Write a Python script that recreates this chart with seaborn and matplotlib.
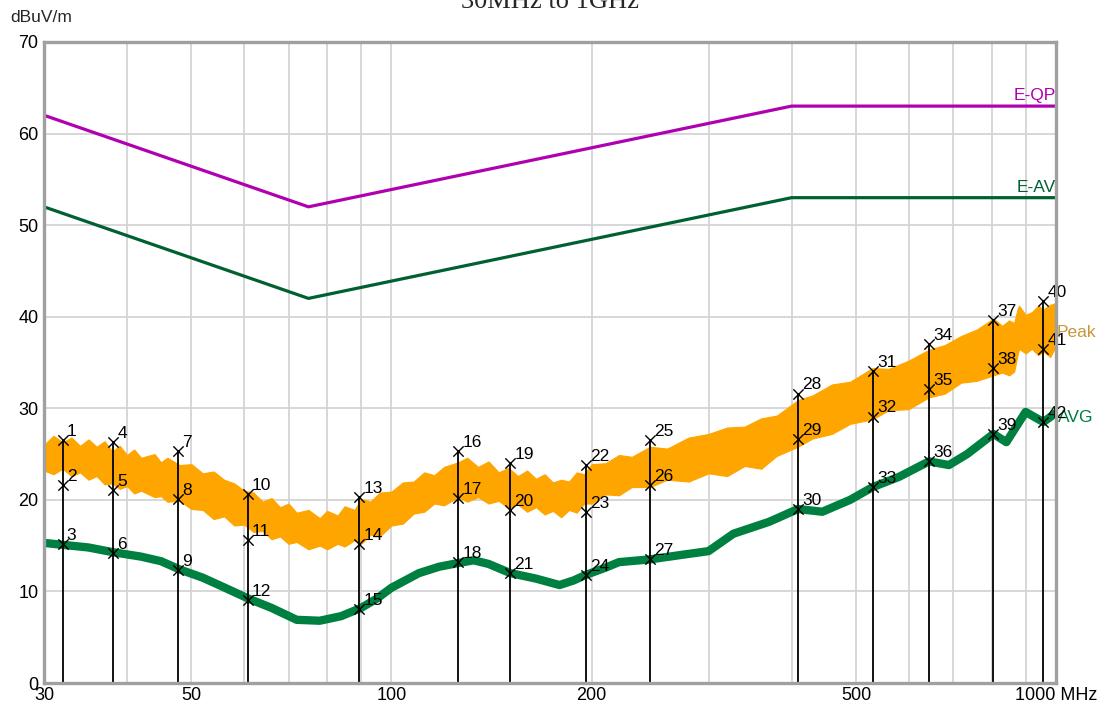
import numpy as np
import pandas as pd
import seaborn as sns
import matplotlib.pyplot as plt

# limit lines (MHz, dBuV/m)
qp_freq = [30, 75, 400, 1000]
qp_level = [62, 52, 63, 63]
av_freq = [30, 75, 400, 1000]
av_level = [52, 42, 53, 53]

# peak trace envelope
peak_freq = [30, 31, 32, 33, 34, 35, 36, 37, 38, 39, 40, 41, 42, 44, 45, 46, 48, 50, 52, 54,
             56, 58, 60, 62, 64, 66, 68, 70, 72, 75, 78, 80, 83, 85, 88, 90, 93, 96, 100, 104,
             108, 112, 116, 120, 126, 130, 135, 140, 145, 150, 155, 160, 165, 170, 175, 180,
             185, 190, 195, 200, 210, 220, 230, 245, 260, 280, 300, 320, 340, 360, 380, 409,
             430, 460, 490, 530, 560, 600, 644, 680, 720, 760, 805, 830, 850, 865, 875, 880,
             900, 920, 940, 957, 980, 1000]
peak_low = [23.2, 22.8, 23.4, 22.6, 23.0, 22.2, 22.6, 21.7, 21.8, 21.2, 21.5, 20.7, 21.0, 20.3,
            20.4, 19.8, 19.9, 19.0, 18.9, 17.9, 18.2, 17.2, 17.3, 16.5, 16.6, 15.7, 16.0, 15.2,
            15.4, 14.6, 15.0, 14.6, 15.2, 14.9, 15.6, 15.2, 16.2, 16.0, 17.2, 17.4, 18.5, 18.7,
            19.6, 19.4, 20.3, 19.8, 20.3, 19.6, 19.9, 19.1, 19.5, 18.7, 19.2, 18.4, 18.8, 18.1,
            18.9, 18.6, 19.6, 19.6, 20.6, 20.5, 21.4, 21.4, 22.2, 22.0, 22.9, 22.6, 23.7, 23.4,
            24.8, 25.8, 26.7, 27.2, 28.3, 28.8, 29.8, 29.9, 31.2, 31.6, 32.8, 33.0, 33.6, 33.9,
            33.6, 34.0, 35.8, 36.5, 36.0, 36.5, 35.8, 36.2, 35.6, 36.8]
peak_high = [26.0, 27.0, 26.3, 26.8, 25.9, 26.6, 25.8, 26.4, 25.3, 25.9, 24.9, 25.5, 24.6, 25.0,
             24.1, 24.6, 23.8, 23.9, 22.9, 23.1, 22.2, 21.8, 21.0, 20.8, 19.8, 20.2, 19.2, 19.6,
             18.6, 18.9, 18.0, 18.8, 18.3, 19.3, 18.9, 20.1, 19.8, 20.8, 20.9, 21.9, 22.0, 23.0,
             22.7, 23.6, 24.1, 24.6, 23.6, 24.2, 23.0, 23.5, 22.6, 23.2, 22.3, 22.8, 21.9, 22.2,
             22.0, 23.0, 22.8, 23.9, 24.0, 24.9, 24.7, 25.8, 25.6, 26.8, 27.2, 27.9, 28.0, 28.9,
             29.2, 30.9, 31.4, 32.6, 32.9, 34.4, 34.3, 35.2, 36.4, 36.9, 37.9, 38.6, 39.8, 39.0,
             39.6, 39.3, 40.8, 41.2, 40.2, 40.5, 41.2, 40.8, 41.3, 41.5]

# average trace
avg_freq = [30, 35, 38, 42, 45, 48, 52, 55, 61, 66, 72, 78, 84, 90, 95, 100, 110, 118, 126, 133,
            140, 151, 165, 179, 188, 196, 210, 220, 245, 280, 300, 327, 370, 409, 445, 490, 530,
            580, 644, 690, 735, 805, 842, 900, 957, 1000]
avg_level = [15.3, 14.8, 14.3, 13.8, 13.3, 12.4, 11.5, 10.7, 9.2, 8.2, 6.9, 6.8, 7.3, 8.2, 9.2,
             10.4, 12.0, 12.7, 13.1, 13.4, 13.0, 12.0, 11.4, 10.7, 11.2, 11.8, 12.6, 13.2, 13.5,
             14.1, 14.4, 16.3, 17.6, 19.0, 18.7, 20.0, 21.4, 22.5, 24.2, 23.8, 25.0, 27.2, 26.3,
             29.6, 28.5, 29.5]

# markers: frequency, value, label
mk_freq = [32.0, 32.0, 32.0, 38.1, 38.1, 38.1, 47.7, 47.7, 47.7, 60.8, 60.8, 60.8,
           89.5, 89.5, 89.5, 126, 126, 126, 151, 151, 151, 196, 196, 196, 245, 245, 245,
           409, 409, 409, 530, 530, 530, 644, 644, 644, 805, 805, 805, 957, 957, 957]
mk_level = [26.5, 21.6, 15.2, 26.3, 21.1, 14.2, 25.3, 20.1, 12.3, 20.6, 15.6, 9.1,
            20.3, 15.2, 8.1, 25.3, 20.2, 13.2, 24.0, 18.9, 12.0, 23.8, 18.7, 11.8,
            26.5, 21.6, 13.5, 31.6, 26.6, 19.0, 34.1, 29.1, 21.4, 37.0, 32.1, 24.2,
            39.6, 34.4, 27.2, 41.7, 36.5, 28.5]
mk_label = [str(i) for i in range(1, 43)]

xtick_vals = [30, 50, 100, 200, 500, 1000]
xtick_labels = ["30", "50", "100", "200", "500", "1000 MHz"]

sns.set_style("white")
plt.rcParams['font.family'] = ['Liberation Sans', 'DejaVu Sans']

fig = plt.figure(figsize=(11.06, 7.07), dpi=100)
ax = fig.add_axes([44 / 1106, 24 / 707, 1012 / 1106, 641 / 707])
ax.set_xscale('log')

# grid
grid_x = [40, 50, 60, 70, 80, 90, 100, 200, 300, 400, 500, 600, 700, 800, 900]
for g in grid_x:
    ax.axvline(g, color='#d4d4d4', lw=1.3, zorder=0)
for g in range(10, 70, 10):
    ax.axhline(g, color='#d4d4d4', lw=1.3, zorder=0)

# traces
ax.fill_between(peak_freq, peak_low, peak_high, color='#ffa500', lw=0.8, edgecolor='#ffa500', zorder=2)
avg_df = pd.DataFrame({'f': avg_freq, 'v': avg_level})
sns.lineplot(data=avg_df, x='f', y='v', color='#008040', lw=6, ax=ax, zorder=3)

# limits
sns.lineplot(x=qp_freq, y=qp_level, color='#b000b0', lw=2.3, ax=ax, zorder=4)
sns.lineplot(x=av_freq, y=av_level, color='#006030', lw=2.3, ax=ax, zorder=4)

# markers
mk_df = pd.DataFrame({'f': mk_freq, 'v': mk_level, 'lab': mk_label})
tops = mk_df.groupby('f')['v'].max()
ax.vlines(tops.index, 0, tops.values, color='black', lw=1.3, zorder=5)
sns.scatterplot(data=mk_df, x='f', y='v', marker='x', s=55, color='black', linewidth=1.0, ax=ax, zorder=6)
for f, v, lab in zip(mk_freq, mk_level, mk_label):
    ax.annotate(lab, (f, v), xytext=(3, 3), textcoords='offset points', fontsize=12.5,
                color='black', zorder=7)

# trace / limit names
ax.text(1000, 63.3, "E-QP", color='#b000b0', fontsize=12.5, ha='right', va='bottom')
ax.text(1000, 53.3, "E-AV", color='#006030', fontsize=12.5, ha='right', va='bottom')
ax.text(1003, 38.3, "Peak", color='#c8963c', fontsize=12.5, ha='left', va='center', clip_on=False)
ax.text(1006, 29.0, "AVG", color='#007a40', fontsize=12.5, ha='left', va='center', clip_on=False)

ax.set_xlim(30, 1000)
ax.set_ylim(0, 70)
ax.set_xticks(xtick_vals)
ax.set_xticklabels(xtick_labels)
ax.xaxis.set_minor_locator(plt.NullLocator())
ax.set_yticks(range(0, 71, 10))
ax.tick_params(axis='both', length=0, labelsize=13, colors='black')
ax.tick_params(axis='x', pad=3)
ax.tick_params(axis='y', pad=4)
ax.set_xlabel("")
ax.set_ylabel("")
for s in ax.spines.values():
    s.set_color('#a0a0a0')
    s.set_linewidth(2.4)
    s.set_zorder(8)

fig.text(10 / 1106, 1 - 17 / 707, "dBuV/m", fontsize=12.5, va='center', ha='left')
fig.text(550 / 1106, 1 - 8 / 707, "30MHz to 1GHz", fontsize=19, ha='center', va='baseline',
         family='Liberation Serif')

fig.savefig("out.png", dpi=100)
